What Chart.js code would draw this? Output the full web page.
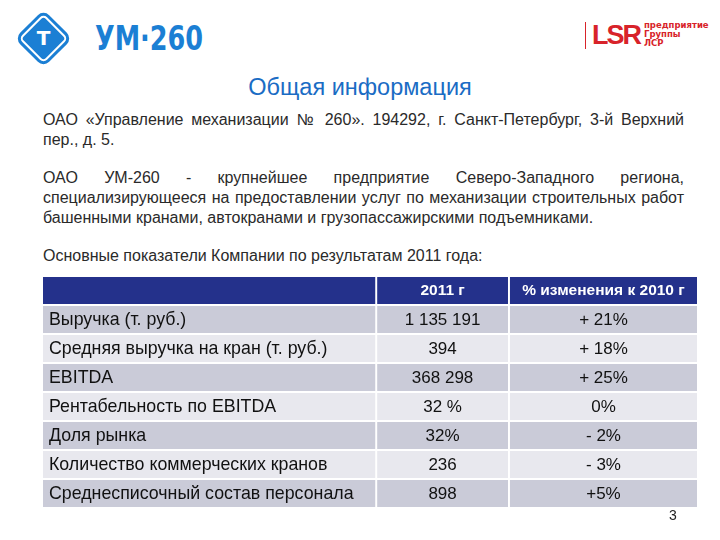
<!DOCTYPE html>
<html><head><meta charset="utf-8">
<script src="https://cdn.jsdelivr.net/npm/chart.js@4/dist/chart.umd.min.js"></script>
<style>
html,body{margin:0;padding:0;background:#fff;width:720px;height:540px;overflow:hidden;font-family:"Liberation Sans",Arial,sans-serif;}
#logo1{position:absolute;left:26px;top:21px;width:31px;height:31px;background:#1b7fd4;border:2px solid #fff;outline:3px solid #1b7fd4;border-radius:5px;transform:rotate(45deg);}
#logo1 span{position:absolute;left:4px;top:4px;width:22px;height:22px;transform:rotate(-45deg);color:#fff;font:bold 20px "DejaVu Sans";line-height:22px;text-align:center;}
#um{position:absolute;left:95px;top:19px;color:#1b7fd4;font:bold 33px "DejaVu Sans Condensed","DejaVu Sans";transform:scaleX(0.86);transform-origin:left top;}
#lsrline{position:absolute;left:585px;top:22px;width:1px;height:27px;background:#d8232a;}
#lsr{position:absolute;left:592px;top:20px;color:#d8232a;font:bold 27px "Liberation Sans";letter-spacing:-2px;}
#lsrtxt{position:absolute;left:644px;top:21px;color:#d8232a;font:bold 8.5px/9px "DejaVu Sans";}
#title{position:absolute;left:0;width:720px;top:74px;text-align:center;color:#1a6cc4;font:23.5px "Liberation Sans";}
#body{position:absolute;left:43px;top:110px;width:641px;color:#2a2a2a;font:16px/20px "Liberation Sans";}
#body p{margin:0 0 18px 0;text-align:justify;}
#pg{position:absolute;left:669px;top:507px;font:14px "Liberation Sans";color:#222;}
#wrap{position:absolute;left:43px;top:276px;width:654px;height:232px;}
</style></head><body>
<div id="logo1"><span>Т</span></div>
<div id="um">УМ·260</div>
<div id="lsrline"></div>
<div id="lsr">LSR</div>
<div id="lsrtxt">предприятие<br>Группы<br>ЛСР</div>
<div id="title">Общая информация</div>
<div id="body">
<p>ОАО «Управление механизации № 260». 194292, г. Санкт-Петербург, 3-й Верхний пер., д. 5.</p>
<p>ОАО УМ-260 - крупнейшее предприятие Северо-Западного региона, специализирующееся на предоставлении услуг по механизации строительных работ башенными кранами, автокранами и грузопассажирскими подъемниками.</p>
<p>Основные показатели Компании по результатам 2011 года:</p>
</div>
<div id="wrap"><canvas id="c" width="654" height="232"></canvas></div>
<div id="pg">3</div>
<script>
// Data
const headers = ["", "2011 г", "% изменения к 2010 г"];
const indicators = ["Выручка (т. руб.)", "Средняя выручка на кран (т. руб.)", "EBITDA", "Рентабельность по EBITDA", "Доля рынка", "Количество коммерческих кранов", "Среднесписочный состав персонала"];
const values2011 = ["1 135 191", "394", "368 298", "32 %", "32%", "236", "898"];
const change2010 = ["+ 21%", "+ 18%", "+ 25%", "0%", "- 2%", "- 3%", "+5%"];

const rowLabels = ["header"].concat(indicators);
const colText = [
  [headers[0]].concat(indicators),
  [headers[1]].concat(values2011),
  [headers[2]].concat(change2010)
];
const colSpans = [[0, 0.508], [0.511, 0.711], [0.714, 1]];
const rowColors = rowLabels.map((r, i) => i === 0 ? '#24318b' : (i % 2 === 1 ? '#cacbd8' : '#e8e8ee'));

const textPlugin = {
  id: 'cellText',
  afterDatasetsDraw(chart) {
    const ctx = chart.ctx, xs = chart.scales.x, ys = chart.scales.y;
    ctx.save();
    ctx.textBaseline = 'middle';
    colText.forEach((col, ci) => {
      col.forEach((t, ri) => {
        const y = ys.getPixelForValue(ri) + 0.5;
        if (ri === 0) { ctx.font = 'bold 15.5px "Liberation Sans"'; ctx.fillStyle = '#ffffff'; }
        else if (ci === 0) { ctx.font = '17.8px "Liberation Sans"'; ctx.fillStyle = '#111111'; }
        else { ctx.font = '17px "Liberation Sans"'; ctx.fillStyle = '#111111'; }
        if (ci === 0) { ctx.textAlign = 'left'; ctx.fillText(t, xs.getPixelForValue(colSpans[ci][0]) + 6, y); }
        else { ctx.textAlign = 'center'; ctx.fillText(t, (xs.getPixelForValue(colSpans[ci][0]) + xs.getPixelForValue(colSpans[ci][1])) / 2, y); }
      });
    });
    ctx.restore();
  }
};

new Chart(document.getElementById('c'), {
  type: 'bar',
  data: {
    labels: rowLabels,
    datasets: colSpans.map(span => ({
      data: rowLabels.map(() => span),
      backgroundColor: rowColors,
      borderWidth: 0,
      grouped: false,
      barPercentage: 0.93,
      categoryPercentage: 1
    }))
  },
  options: {
    indexAxis: 'y',
    responsive: false,
    animation: false,
    events: [],
    layout: { padding: 0 },
    plugins: { legend: { display: false }, tooltip: { enabled: false } },
    scales: {
      x: { type: 'linear', min: 0, max: 1, display: false },
      y: { type: 'category', display: false, offset: true }
    }
  },
  plugins: [textPlugin]
});
</script>
</body></html>
